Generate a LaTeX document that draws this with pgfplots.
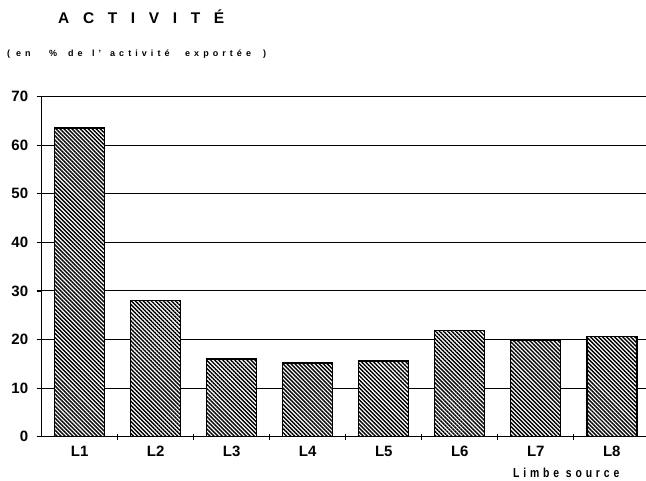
\documentclass[border=0pt]{standalone}
\usepackage{fontspec}
\setmainfont{Liberation Sans}
\usepackage{pgfplots}
\pgfplotsset{compat=1.18}
\usetikzlibrary{patterns.meta}
\begin{document}
\begin{tikzpicture}
\useasboundingbox (0,0) rectangle (646pt,480pt);
\begin{axis}[
  at={(41.7pt,43.3pt)}, anchor=south west,
  scale only axis, width=604.3pt, height=340.2pt,
  xmin=0.5, xmax=8.45, ymin=0, ymax=70,
  axis lines*=left,
  axis line style={black, line width=1.4pt},
  ytick={0,10,...,70},
  ymajorgrids, grid style={black, line width=1.1pt},
  xtick={1,...,8}, xticklabels={L1,L2,L3,L4,L5,L6,L7,L8},
  minor xtick={1.5,2.5,...,7.5},
  major x tick style={draw=none},
  minor x tick style={black, line width=1.2pt},
  xtick align=center, ytick align=outside,
  major tick length=5pt, minor tick length=6pt,
  tick style={black, line width=1.2pt},
  ticklabel style={font=\bfseries\fontsize{15}{15}\selectfont},
  /pgf/number format/assume math mode=true,
  yticklabel style={xshift=-5pt},
  xticklabel style={yshift=-3pt},
  enlargelimits=false,
  clip=false,
]
\addplot[ybar, bar width=50pt, draw=black, line width=1.4pt, fill=white,
  postaction={pattern={Lines[angle=-45,distance=2.85pt,line width=1.4pt]}}]
  coordinates {(1,63.5) (2,28) (3,16) (4,15.2) (5,15.6) (6,21.8) (7,19.8) (8,20.6)};
\end{axis}
\node[anchor=base west, inner sep=0pt, font=\bfseries\fontsize{15.5}{16}\selectfont\addfontfeatures{LetterSpace=88}] at (58pt,456pt) {ACTIVITÉ};
\begin{scope}[every node/.style={anchor=base west, inner sep=0pt, font=\bfseries\fontsize{9}{10}\selectfont\addfontfeatures{LetterSpace=45}}]
\node at (7pt,423pt) {(};
\node at (16pt,423pt) {en};
\node at (49pt,423pt) {\%};
\node at (68pt,423pt) {de};
\node at (92pt,423pt) {l'};
\node at (110pt,423pt) {activité};
\node at (185pt,423pt) {exportée};
\node at (263pt,423pt) {)};
\end{scope}
\node[anchor=base west, inner sep=0pt, font=\bfseries\fontsize{13}{14}\selectfont\addfontfeatures{LetterSpace=37}] at (513pt,3pt) {\scalebox{0.8}[1]{Limbe source}};
\end{tikzpicture}
\end{document}
